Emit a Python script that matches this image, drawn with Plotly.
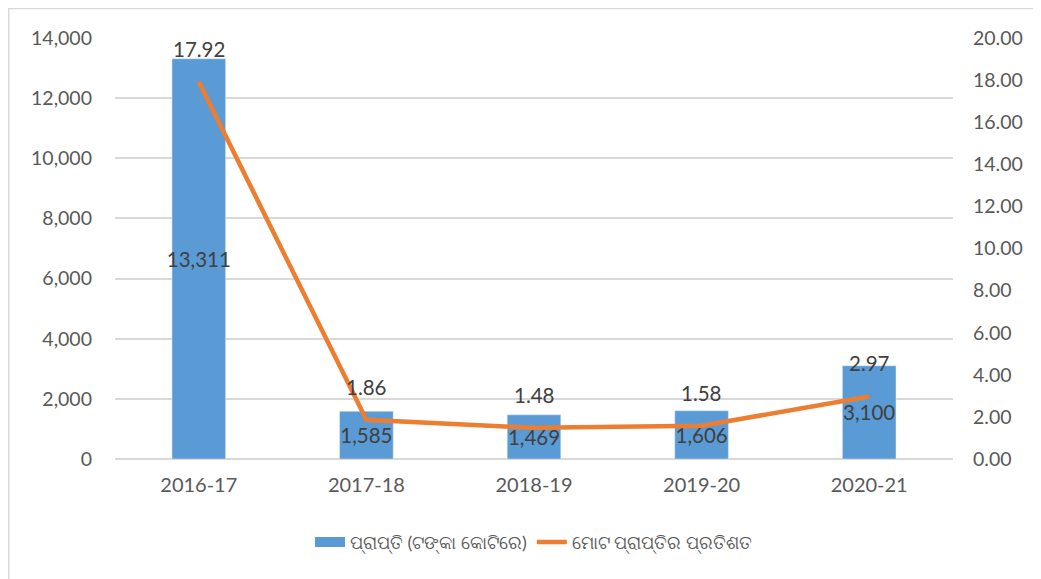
import plotly.graph_objects as go

years = ["2016-17", "2017-18", "2018-19", "2019-20", "2020-21"]
receipts = [13311, 1585, 1469, 1606, 3100]
share_pct = [17.92, 1.86, 1.48, 1.58, 2.97]

bar_name = "ପ୍ରାପ୍ତି (ଟଙ୍କା କୋଟିରେ)"
line_name = "ମୋଟ ପ୍ରାପ୍ତିର ପ୍ରତିଶତ"

font_family = "Lato, 'Open Sans', sans-serif"
blue = "#5B9BD5"
orange = "#ED7D31"

fig = go.Figure()

fig.add_trace(go.Bar(
    name=bar_name,
    x=years,
    y=receipts,
    marker_color=blue,
    text=[f"{v:,}" for v in receipts],
    textposition="inside",
    insidetextanchor="middle",
    constraintext="none",
    cliponaxis=False,
    textfont=dict(size=20.5, color="#404040", family=font_family),
    textangle=0,
    showlegend=False,
))

# legend entry with a wide flat swatch like the original
fig.add_trace(go.Scatter(
    name=bar_name,
    x=[None], y=[None],
    mode="lines",
    line=dict(color=blue, width=13),
))

fig.add_trace(go.Scatter(
    name=line_name,
    x=years,
    y=share_pct,
    yaxis="y2",
    mode="lines",
    line=dict(color=orange, width=4.5),
))

# labels above the line points
for yr, p in zip(years, share_pct):
    fig.add_annotation(
        x=yr, y=p, xref="x", yref="y2",
        text=f"{p:.2f}", showarrow=False,
        yshift=33,
        font=dict(size=20.5, color="#404040", family=font_family),
    )

# outer chart border (cropped on right/bottom)
fig.add_shape(
    type="rect", xref="paper", yref="paper",
    x0=(0.8 - 107) / 838, x1=2.0, y0=-1.0, y1=1 + 29.5 / 421,
    line=dict(color="#D9D9D9", width=1.5),
    layer="below",
)

fig.update_layout(
    width=1041,
    height=579,
    margin=dict(l=107, r=96, t=30, b=128, autoexpand=False),
    plot_bgcolor="white",
    paper_bgcolor="white",
    font=dict(family=font_family, size=19.5, color="#595959"),
    bargap=0.68,
    showlegend=True,
    legend=dict(
        orientation="h",
        x=0.5, xanchor="center",
        y=-0.198, yanchor="middle",
        font=dict(size=18, color="#595959"),
        itemwidth=30,
        tracegroupgap=30,
    ),
    xaxis=dict(
        showgrid=False,
        showline=False,
        ticks="",
        ticklabelstandoff=12,
        tickfont=dict(size=20),
        automargin=False,
    ),
    yaxis=dict(
        range=[0, 14000],
        dtick=2000,
        tickformat=",",
        showgrid=True,
        gridcolor="#D9D9D9",
        gridwidth=1.5,
        zeroline=True,
        zerolinecolor="#D9D9D9",
        zerolinewidth=1.5,
        ticks="",
        ticklabelstandoff=22,
        automargin=False,
    ),
    yaxis2=dict(
        overlaying="y",
        side="right",
        range=[0, 20],
        dtick=2,
        tickformat=".2f",
        showgrid=False,
        zeroline=False,
        ticks="",
        ticklabelstandoff=19,
        automargin=False,
    ),
)

fig.write_html("out.html")
